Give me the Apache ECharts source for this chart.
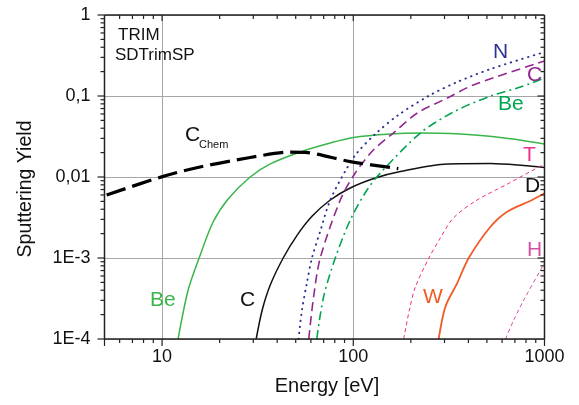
<!DOCTYPE html>
<html><head><meta charset="utf-8">
<script src="https://cdn.jsdelivr.net/npm/echarts@6/dist/echarts.min.js"></script>
<style>html,body{margin:0;padding:0;background:#fff}#c{width:579px;height:405px}</style>
</head><body><div id="c"></div>
<script>
// ---- data (Energy [eV], Sputtering Yield) ----
const cChem = [[5.13,6.0e-3],[10.04,0.0101],[15.8,0.0133],[28.9,0.0174],[46.8,0.0203],[56.1,0.0201],[96.4,0.0155],[172,0.0127]];
const beSolid = [[12.13,1e-4],[13.68,4.0e-4],[15.63,1e-3],[18.49,2.78e-3],[22.16,5.35e-3],[28.9,0.010],[36.8,0.0145],[52.8,0.0204],[75.8,0.0263],[100,0.0308],[156,0.0340],[224,0.0349],[322,0.0344],[589,0.0308],[1000,0.0256]];
const cSolid = [[31.06,1e-4],[33.4,2.28e-4],[36.8,4.64e-4],[43.0,1e-3],[50.9,1.92e-3],[61.0,3.3e-3],[75.8,5.2e-3],[96.4,7.32e-3],[130.4,9.72e-3],[176.2,0.0117],[310.6,0.0145],[521.7,0.0147],[776.5,0.0139],[1000,0.0131]];
const nDot = [[51.7,1e-4],[53.9,2.28e-4],[57.2,4.91e-4],[60.8,1e-3],[67.2,2.15e-3],[75.8,5.2e-3],[92.7,0.0129],[104.6,0.0198],[130.4,0.034],[172,0.0583],[253,0.103],[350.4,0.149],[521.7,0.215],[1000,0.349]];
const cDash = [[58.5,1e-4],[62.0,3.3e-4],[67.2,1e-3],[85.5,5.2e-3],[102.4,0.0112],[127.3,0.0215],[162,0.0349],[216.3,0.0617],[310.6,0.0945],[424.9,0.137],[1000,0.270]];
const beDashDot = [[64.4,1e-4],[69.9,3.3e-4],[80.5,1e-3],[96.4,2.94e-3],[118,6.91e-3],[138.5,0.0112],[224.3,0.0349],[333.9,0.0634],[521.7,0.100],[748.8,0.129],[1000,0.167]];
const tDash = [[183.4,1e-4],[196.5,2.28e-4],[211.2,4.38e-4],[248,9.9e-4],[285.4,1.77e-3],[333.9,3.12e-3],[435.3,5.05e-3],[640.3,8.2e-3],[1000,0.0145]];
const wSolid = [[279.6,1e-4],[303.2,2.5e-4],[349.1,4.87e-4],[401.5,1e-3],[521.7,2.43e-3],[637.9,3.73e-3],[862,5.2e-3],[1000,6.29e-3]];
const hDash = [[625.2,1e-4],[690.8,1.72e-4],[779.3,3.03e-4],[953,7.1e-4],[1000,8.68e-4]];

// ---- axis ticks / labels ----
const xMajorLabels = {10:'10',100:'100',1000:'1000'};
const yTickLabels = {'0':'1','-1':'0,1','-2':'0,01','-3':'1E-3','-4':'1E-4'};
const xMajorTicks = [5,10,100,1000];
const xMinorTicks = [6,7,8,9,20,30,40,50,60,70,80,90,200,300,400,500,600,700,800,900];
const yMajorTicks = [1e-4,1e-3,1e-2,1e-1,1];
const yMinorTicks = [2e-4,3e-4,4e-4,5e-4,6e-4,7e-4,8e-4,9e-4,2e-3,3e-3,4e-3,5e-3,6e-3,7e-3,8e-3,9e-3,0.02,0.03,0.04,0.05,0.06,0.07,0.08,0.09,0.2,0.3,0.4,0.5,0.6,0.7,0.8,0.9];
const X_MIN = 5, X_MAX = 1000, Y_MIN = 1e-4, Y_MAX = 1;

const FONT = '"Liberation Sans", Arial, sans-serif';
const AXC = '#222';

const chart = echarts.init(document.getElementById('c'), null, {renderer:'canvas'});
const lineS = (data, color, width, type, cap) => ({
  type:'line', data, showSymbol:false, symbol:'none', smooth:0.3,
  xAxisIndex:0, yAxisIndex:0, silent:true, animation:false, z:3,
  lineStyle:{color, width, type, cap: cap || 'butt'}
});

chart.setOption({
  animation:false,
  grid:{left:104.5, right:34.5, top:15, bottom:66, containLabel:false},
  xAxis:[
    {type:'log', min:X_MIN, max:X_MAX, position:'bottom',
     axisLine:{show:false, onZero:false}, axisTick:{show:false},
     axisLabel:{show:true, margin:9, color:'#111', fontSize:18, fontFamily:FONT,
       formatter:v=>xMajorLabels[Math.round(v)]||''},
     splitLine:{show:true, lineStyle:{color:'#a6a6a6', width:1}}}
  ],
  yAxis:[
    {type:'log', min:Y_MIN, max:Y_MAX, position:'left',
     axisLine:{show:false, onZero:false}, axisTick:{show:false},
     axisLabel:{show:true, margin:14, color:'#111', fontSize:18, fontFamily:FONT,
       formatter:v=>yTickLabels[String(Math.round(Math.log10(v)))]||''},
     splitLine:{show:true, lineStyle:{color:'#a6a6a6', width:1}}}
  ],
  series:[
    lineS(beSolid, '#39b54a', 1.5, 'solid'),
    lineS(cSolid, '#111111', 1.5, 'solid'),
    lineS(nDot, '#2e3192', 1.9, [0.5,5.5], 'round'),
    lineS(cDash, '#93278f', 1.6, [9,5]),
    lineS(beDashDot, '#00a651', 1.6, [9,4,2,4]),
    lineS(tDash, '#ec2f8c', 1, [4,3]),
    lineS(wSolid, '#f15a24', 1.8, 'solid'),
    lineS(hDash, '#d252a5', 1, [4,3]),
    lineS(cChem, '#000000', 3.2, [20,7])
  ]
});

// ---- frame and ticks placed through the chart's own log scales ----
const px = (x, y) => chart.convertToPixel({xAxisIndex:0, yAxisIndex:0}, [x, y]);
const seg = (a, b, w) => ({type:'line', z:100, silent:true,
  shape:{x1:a[0], y1:a[1], x2:b[0], y2:b[1]}, style:{stroke:AXC, lineWidth:w, lineDash:[1000, 0]}});
const gLines = [];
gLines.push(seg(px(X_MIN, Y_MIN), px(X_MAX, Y_MIN), 1.5));
gLines.push(seg(px(X_MIN, Y_MAX), px(X_MAX, Y_MAX), 1.5));
gLines.push(seg(px(X_MIN, Y_MIN), px(X_MIN, Y_MAX), 1.5));
gLines.push(seg(px(X_MAX, Y_MIN), px(X_MAX, Y_MAX), 1.5));
const xTick = (v, len, top) => { const p = px(v, top ? Y_MAX : Y_MIN); gLines.push(seg(p, [p[0], p[1] + len], 1.2)); };
const yTick = (v, len, right) => { const p = px(right ? X_MAX : X_MIN, v); gLines.push(seg([p[0] - len, p[1]], p, 1.2)); };
xMajorTicks.forEach(v => { xTick(v, 7, false); if (v > X_MIN && v < X_MAX) xTick(v, 6, true); });
xMinorTicks.forEach(v => { xTick(v, 4, false); xTick(v, 4, true); });
yMajorTicks.forEach(v => { yTick(v, 7, false); if (v > Y_MIN && v < Y_MAX) yTick(v, 7, true); });
yMinorTicks.forEach(v => { yTick(v, 4, false); yTick(v, 4, true); });

const txt = (text, x, y, size, fill, extra) => Object.assign({type:'text', z:50, silent:true,
  style:{text, x, y, font:size + 'px ' + FONT, fill, textVerticalAlign:'middle'}}, extra || {});

chart.setOption({
  graphic: gLines.concat([
    {type:'text', z:50, x:327, y:386, style:{text:'Energy [eV]', font:'20px '+FONT, fill:'#111', textAlign:'center', textVerticalAlign:'middle'}},
    {type:'text', z:50, x:25.5, y:189, rotation:Math.PI/2, style:{text:'Sputtering Yield', font:'19.5px '+FONT, fill:'#111', textAlign:'center', textVerticalAlign:'middle'}},
    txt('TRIM', 118, 35, 17, '#111'),
    txt('SDTrimSP', 115, 55, 17, '#111'),
    txt('C', 185, 135.5, 21, '#111'),
    txt('Chem', 199, 145, 11, '#111'),
    txt('Be', 150, 300, 21, '#39b54a'),
    txt('C', 240, 300, 21, '#111'),
    txt('W', 423, 297.5, 21, '#f15a24'),
    txt('H', 527, 250.5, 21, '#d252a5'),
    txt('N', 493, 52.5, 21, '#2e3192'),
    txt('C', 527, 75.5, 21, '#93278f'),
    txt('Be', 498, 104.5, 21, '#00a651'),
    txt('T', 523, 155.5, 21, '#ec2f8c'),
    txt('D', 525, 186.5, 21, '#111')
  ])
});
</script></body></html>
